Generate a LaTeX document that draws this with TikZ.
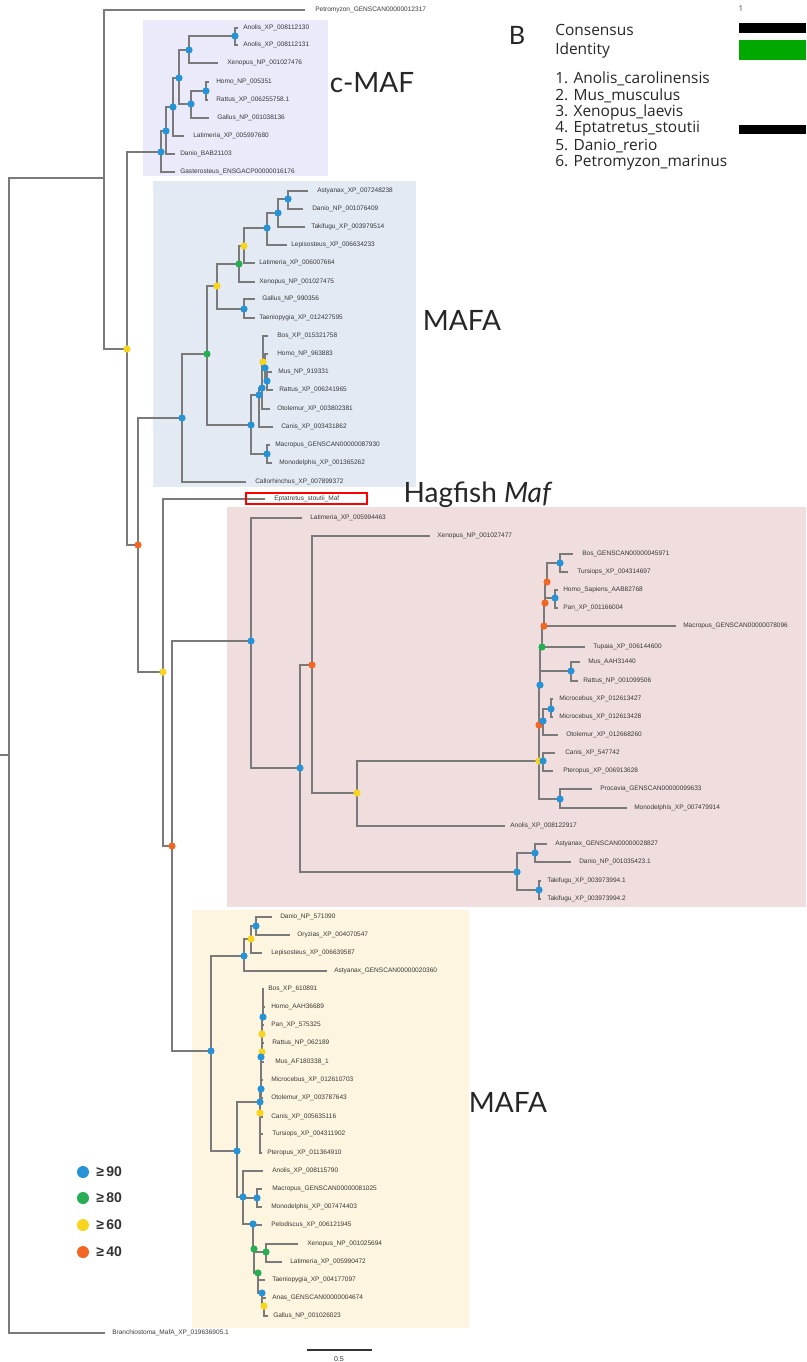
\documentclass[tikz,border=0pt]{standalone}
\usepackage{fontspec}
\setmainfont{Liberation Sans}
\newfontfamily\bigfont{Lato}
\newfontfamily\keyfont{Open Sans}
\definecolor{branch}{HTML}{7A7A7A}
\definecolor{dblue}{HTML}{2593D5}
\definecolor{dgreen}{HTML}{27AE55}
\definecolor{dyellow}{HTML}{F7D51D}
\definecolor{dorange}{HTML}{F26522}
\definecolor{boxcmaf}{HTML}{EAEAFA}
\definecolor{boxmafa}{HTML}{E4EAF4}
\definecolor{boxpink}{HTML}{F0DEDF}
\definecolor{boxyel}{HTML}{FDF5DF}
\definecolor{idgreen}{HTML}{00A800}
\tikzset{
  br/.style={draw=branch, line width=0.85pt},
  lbl/.style={anchor=west, inner sep=0pt, text=black!78, font=\fontsize{4.9}{5}\selectfont},
  bigl/.style={inner sep=0pt, text=black!85, font=\bigfont\fontsize{21}{22}\selectfont},
  keyl/.style={anchor=west, inner sep=0pt, text=black!85, font=\keyfont\fontsize{11.6}{12}\selectfont},
  legl/.style={anchor=west, inner sep=0pt, text=black!80, font=\bfseries\fontsize{10.5}{11}\selectfont},
}
% internal node: parent, name, x, y
\newcommand\tnode[4]{\coordinate (#2) at (#3,#4); \draw[br] (#1) |- (#2);}
% leaf: parent, name, tip x, y, label x, text
\newcommand\tleaf[6]{\coordinate (#2) at (#3,#4); \draw[br] (#1) |- (#2); \node[lbl] (#2-t) at (#5,#4) {#6};}
\begin{document}
\begin{tikzpicture}[x=0.75pt, y=-0.75pt]
\useasboundingbox (0,0) rectangle (806,1362);
\fill[white] (0,0) rectangle (806,1362);

% clade backgrounds
\fill[boxcmaf] (143,20) rectangle (328,176);
\fill[boxmafa] (153,181) rectangle (416,487);
\fill[boxpink] (227,507) rectangle (806,907);
\fill[boxyel] (192,910) rectangle (469,1328);

% root
\coordinate (rtick) at (0,755);
\coordinate (R0) at (9,755);
\draw[br] (rtick) -- (R0);
\tnode{R0}{A}{104}{178}
\tleaf{A}{petro}{305}{10}{315}{Petromyzon\_GENSCAN00000012317}
\tnode{A}{B}{127}{349}
\tleaf{R0}{bran}{105}{1333}{112}{Branchiostoma\_MafA\_XP\_019636905.1}

% c-MAF
\tnode{B}{C0}{161}{152}
\tleaf{C0}{c-gas}{175}{172}{180}{Gasterosteus\_ENSGACP00000016176}
\tnode{C0}{C1}{166}{131}
\tleaf{C1}{c-dan}{175}{154}{180}{Danio\_BAB21103}
\tnode{C1}{C2}{173}{107}
\tleaf{C2}{c-lat}{184}{136}{193}{Latimeria\_XP\_005997680}
\tnode{C2}{C3}{179}{78}
\tnode{C3}{C4}{189}{50}
\tleaf{C4}{c-xen}{218}{63}{227}{Xenopus\_NP\_001027476}
\tnode{C4}{C6}{235}{36}
\tleaf{C6}{c-ano1}{238}{28}{243}{Anolis\_XP\_008112130}
\tleaf{C6}{c-ano2}{238}{45}{243}{Anolis\_XP\_008112131}
\tnode{C3}{C5}{191}{104}
\tleaf{C5}{c-gal}{209}{118}{217}{Gallus\_NP\_001038136}
\tnode{C5}{C7}{206}{91}
\tleaf{C7}{c-hom}{209}{82}{216}{Homo\_NP\_005351}
\tleaf{C7}{c-rat}{208}{100}{216}{Rattus\_XP\_006255758.1}

% MAFA (upper)
\tnode{B}{D}{138}{545}
\tnode{D}{E0}{182}{418}
\tleaf{E0}{e-cal}{246}{482}{255}{Callorhinchus\_XP\_007899372}
\tnode{E0}{E1}{207}{354}
\tnode{E1}{E2}{217}{286}
\tnode{E2}{E4}{239}{264}
\tleaf{E4}{e-xen}{255}{282}{259}{Xenopus\_NP\_001027475}
\tnode{E4}{E6}{244}{246}
\tleaf{E6}{e-lat}{255}{263}{259}{Latimeria\_XP\_006007664}
\tnode{E6}{E7}{267}{228}
\tleaf{E7}{e-lep}{287}{245}{291}{Lepisosteus\_XP\_006634233}
\tnode{E7}{E8}{278}{213}
\tleaf{E8}{e-tak}{305}{227}{311}{Takifugu\_XP\_003979514}
\tnode{E8}{E9}{288}{199}
\tleaf{E9}{e-ast}{308}{191}{317}{Astyanax\_XP\_007248238}
\tleaf{E9}{e-dan}{303}{209}{312}{Danio\_NP\_001076409}
\tnode{E2}{E5}{244}{309}
\tleaf{E5}{e-gal}{255}{299}{262}{Gallus\_NP\_990356}
\tleaf{E5}{e-tae}{255}{318}{259}{Taeniopygia\_XP\_012427595}
\tnode{E1}{E3}{251}{425}
\tnode{E3}{E11}{267}{454}
\tleaf{E11}{e-mac}{270}{445}{275}{Macropus\_GENSCAN00000087930}
\tleaf{E11}{e-mon}{272}{463}{279}{Monodelphis\_XP\_001365262}
\tnode{E3}{E10}{259}{395}
\tleaf{E10}{e-can}{273}{427}{281}{Canis\_XP\_003431862}
\tnode{E10}{E12}{262}{388}
\tleaf{E12}{e-oto}{270}{409}{277}{Otolemur\_XP\_003802381}
\tnode{E12}{E13}{263}{362}
\tleaf{E13}{e-bos}{268}{336}{277}{Bos\_XP\_015321758}
\tnode{E13}{E14}{265}{368}
\tleaf{E14}{e-hom}{268}{354}{277}{Homo\_NP\_963883}
\tnode{E14}{E15}{267}{381}
\tleaf{E15}{e-mus}{272}{372}{278}{Mus\_NP\_919331}
\tleaf{E15}{e-rat}{273}{390}{279}{Rattus\_XP\_006241965}

% hagfish
\tnode{D}{F}{163}{672}
\tleaf{F}{hag}{265}{499}{274}{Eptatretus\_stoutii\_Maf}
\draw[red, line width=1.3pt] (246,493) rectangle (367,504);
\tnode{F}{G}{172}{846}

% pink clade
\tnode{G}{P0}{251}{641}
\tleaf{P0}{p-lat}{302}{518}{310}{Latimeria\_XP\_005994463}
\tnode{P0}{P1}{300}{768}
\tnode{P1}{P2}{312}{665}
\tleaf{P2}{p-xen}{430}{536}{437}{Xenopus\_NP\_001027477}
\tnode{P2}{P4}{357}{793}
\tleaf{P4}{p-ano}{505}{826}{510}{Anolis\_XP\_008122917}
\tnode{P4}{PM0}{539}{761}
\tnode{P1}{P3}{517}{872}
\tnode{P3}{P5}{535}{853}
\tleaf{P5}{p-ast}{547}{844}{555}{Astyanax\_GENSCAN00000028827}
\tleaf{P5}{p-dan}{571}{862}{579}{Danio\_NP\_001035423.1}
\tnode{P3}{P6}{539}{890}
\tleaf{P6}{p-tak1}{541}{881}{547}{Takifugu\_XP\_003973994.1}
\tleaf{P6}{p-tak2}{541}{899}{547}{Takifugu\_XP\_003973994.2}
\tnode{PM0}{PMc}{543}{761}
\tleaf{PMc}{p-can}{555}{753}{565}{Canis\_XP\_547742}
\tleaf{PMc}{p-pte}{553}{771}{563}{Pteropus\_XP\_006913628}
\tnode{PM0}{PMp}{560}{799}
\tleaf{PMp}{p-pro}{592}{789}{600}{Procavia\_GENSCAN00000099633}
\tleaf{PMp}{p-mon}{627}{808}{634}{Monodelphis\_XP\_007479914}
\tnode{PM0}{PM1}{539}{725}
\tnode{PM1}{PM3}{543}{721}
\tnode{PM3}{PM4}{551}{709}
\tleaf{PM4}{p-mic1}{553}{699}{559}{Microcebus\_XP\_012613427}
\tleaf{PM4}{p-mic2}{553}{717}{559}{Microcebus\_XP\_012613428}
\tleaf{PM3}{p-oto}{558}{735}{566}{Otolemur\_XP\_012668260}
\tnode{PM1}{PM2}{540}{685}
\tnode{PM2}{PMmr}{571}{671}
\tleaf{PMmr}{p-mus}{580}{662}{588}{Mus\_AAH31440}
\tleaf{PMmr}{p-rat}{578}{681}{583}{Rattus\_NP\_001099506}
\tnode{PM2}{PM5}{542}{647}
\tleaf{PM5}{p-tup}{585}{647}{593}{Tupaia\_XP\_006144600}
\tnode{PM5}{PM6}{544}{626}
\tleaf{PM6}{p-mac}{676}{626}{683}{Macropus\_GENSCAN00000078096}
\tnode{PM6}{PM7}{545}{603}
\tnode{PM7}{PMhp}{555}{598}
\tleaf{PMhp}{p-hom}{558}{590}{563}{Homo\_Sapiens\_AAB82768}
\tleaf{PMhp}{p-pan}{558}{608}{563}{Pan\_XP\_001166004}
\tnode{PM7}{PM8}{547}{582}
\tnode{PM8}{PMbt}{560}{563}
\tleaf{PMbt}{p-bos}{573}{554}{582}{Bos\_GENSCAN00000045971}
\tleaf{PMbt}{p-tur}{568}{572}{577}{Tursiops\_XP\_004314697}

% MAFA (lower)
\tnode{G}{Y0}{211}{1051}
\tnode{Y0}{Y1}{244}{956}
\tleaf{Y1}{y-ast}{327}{971}{334}{Astyanax\_GENSCAN00000020360}
\tnode{Y1}{Y3}{251}{939}
\tleaf{Y3}{y-lep}{262}{953}{271}{Lepisosteus\_XP\_006639587}
\tnode{Y3}{Y4}{256}{926}
\tleaf{Y4}{y-dan}{272}{917}{280}{Danio\_NP\_571090}
\tleaf{Y4}{y-ory}{290}{935}{297}{Oryzias\_XP\_004070547}
\tnode{Y0}{Y2}{237}{1151}
\tnode{Y2}{YM0}{260}{1102}
\tnode{YM0}{YM2}{260}{1113}
\tleaf{YM2}{y-can}{263}{1117}{271}{Canis\_XP\_005635116}
\tleaf{YM2}{y-tur}{263}{1134}{272}{Tursiops\_XP\_004311902}
\tleaf{YM2}{y-pte}{262}{1153}{267}{Pteropus\_XP\_011364910}
\tnode{YM0}{YM1}{261}{1089}
\tleaf{YM1}{y-mic}{263}{1080}{271}{Microcebus\_XP\_012610703}
\tleaf{YM1}{y-oto}{263}{1098}{271}{Otolemur\_XP\_003787643}
\tnode{YM1}{YM4}{261}{1057}
\tleaf{YM4}{y-mus}{264}{1062}{275}{Mus\_AF180338\_1}
\tnode{YM4}{YM5}{262}{1052}
\tleaf{YM5}{y-rat}{264}{1043}{272}{Rattus\_NP\_062189}
\tnode{YM5}{YM6}{262}{1034}
\tleaf{YM6}{y-pan}{264}{1025}{271}{Pan\_XP\_575325}
\tnode{YM6}{YM7}{263}{1017}
\tleaf{YM7}{y-hom}{265}{1007}{271}{Homo\_AAH36689}
\tleaf{YM7}{y-bos}{264}{989}{268}{Bos\_XP\_610891}
\tnode{Y2}{Y5}{243}{1197}
\tleaf{Y5}{y-ano}{263}{1171}{272}{Anolis\_XP\_008115790}
\tnode{Y5}{Y6}{257}{1198}
\tleaf{Y6}{y-mac}{262}{1189}{272}{Macropus\_GENSCAN00000081025}
\tleaf{Y6}{y-mon}{262}{1207}{271}{Monodelphis\_XP\_007474403}
\tnode{Y5}{Y7}{253}{1224}
\tleaf{Y7}{y-pel}{262}{1225}{271}{Pelodiscus\_XP\_006121945}
\tnode{Y7}{Y8}{254}{1249}
\tnode{Y8}{Y9}{266}{1252}
\tleaf{Y9}{y-xen}{298}{1244}{307}{Xenopus\_NP\_001025694}
\tleaf{Y9}{y-lat}{282}{1262}{290}{Latimeria\_XP\_005990472}
\tnode{Y8}{Y10}{258}{1273}
\tleaf{Y10}{y-tae}{265}{1280}{272}{Taeniopygia\_XP\_004177097}
\tnode{Y10}{Y11}{262}{1293}
\tleaf{Y11}{y-ana}{266}{1298}{272}{Anas\_GENSCAN00000004674}
\tnode{Y11}{Y12}{264}{1306}
\tleaf{Y12}{y-gal}{268}{1316}{273}{Gallus\_NP\_001026023}

% support dots
\foreach \n in {D,G,P2,PM1,PM6,PM7,PM8} \fill[dorange] (\n) circle[radius=2.7pt];
\foreach \n in {B,F,E2,E6,E13,P4,PM0,Y3,YM2,YM5,YM6,Y12} \fill[dyellow] (\n) circle[radius=2.7pt];
\foreach \n in {E1,E4,PM5,Y8,Y9,Y10} \fill[dgreen] (\n) circle[radius=2.7pt];
\foreach \n in {C0,C1,C2,C3,C4,C5,C6,C7,E0,E3,E5,E7,E8,E9,E10,E11,E12,E14,E15,P0,P1,P3,P5,P6,PMc,PMp,PM2,PM3,PM4,PMmr,PMhp,PMbt,Y0,Y1,Y2,Y4,YM0,YM1,YM4,YM7,Y5,Y6,Y7,Y11}
  \fill[dblue] (\n) circle[radius=2.7pt];

% clade names
\node[bigl] (lab-cmaf) at (372,83) {c-MAF};
\node[bigl] (lab-mafa1) at (462,320) {MAFA};
\node[bigl] (lab-hag) at (478,495) {Hagfish \textit{Maf}};
\node[bigl] (lab-mafa2) at (508,1102) {MAFA};

% support legend
\fill[dblue] (83,1172) circle[radius=4.5pt];
\fill[dgreen] (83,1198) circle[radius=4.5pt];
\fill[dyellow] (83,1225) circle[radius=4.5pt];
\fill[dorange] (83,1252) circle[radius=4.5pt];
\node[legl] (l90) at (96,1172) {≥\,90};
\node[legl] (l80) at (96,1198) {≥\,80};
\node[legl] (l60) at (96,1225) {≥\,60};
\node[legl] (l40) at (96,1252) {≥\,40};

% scale bar
\coordinate (sb1) at (307,1350);
\coordinate (sb2) at (372,1350);
\draw[black!80, line width=0.8pt] (sb1) -- (sb2);
\node[inner sep=0pt, text=black!80, font=\fontsize{5.3}{6}\selectfont] (sbl) at (339,1359) {0.5};

% panel B key
\node[inner sep=0pt, text=black!85, font=\bigfont\fontsize{19}{20}\selectfont] (panB) at (517,35) {B};
\node[keyl] (k-cons) at (555,30) {Consensus};
\node[keyl] (k-id) at (555,50) {Identity};
\node[keyl] (k1) at (555,79) {1. Anolis\_carolinensis};
\node[keyl] (k2) at (555,96) {2. Mus\_musculus};
\node[keyl] (k3) at (555,112) {3. Xenopus\_laevis};
\node[keyl] (k4) at (555,129) {4. Eptatretus\_stoutii};
\node[keyl] (k5) at (555,146) {5. Danio\_rerio};
\node[keyl] (k6) at (555,163) {6. Petromyzon\_marinus};
\node[inner sep=0pt, text=black!75, font=\keyfont\fontsize{6}{6}\selectfont] (k-pos) at (741,9) {1};
\fill[black] (739,23) rectangle (806,33);
\fill[idgreen] (739,40) rectangle (806,60);
\fill[black] (739,125) rectangle (806,134);
\end{tikzpicture}
\end{document}
